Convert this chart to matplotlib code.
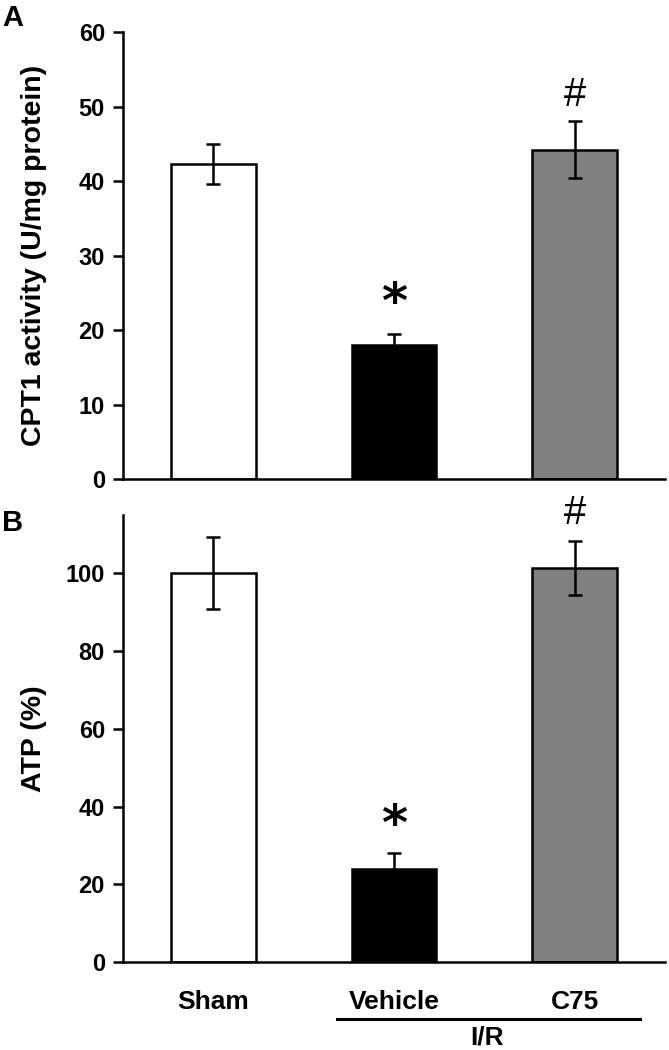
import matplotlib
matplotlib.use("Agg")
import matplotlib.pyplot as plt
import numpy as np

plt.rcParams['font.family'] = ['Liberation Sans', 'DejaVu Sans']

groups = ["Sham", "Vehicle", "C75"]
bar_colors = ["white", "black", "#808080"]

cpt1 = [42.3, 18.0, 44.2]
cpt1_err = [2.7, 1.4, 3.8]
cpt1_marks = ["", "*", "#"]
cpt1_mark_y = [0, 23.5, 51.5]

atp = [100.0, 24.0, 101.4]
atp_err = [9.3, 4.0, 7.0]
atp_marks = ["", "*", "#"]
atp_mark_y = [0, 35.0, 115.5]

W, H = 669, 1050
fig = plt.figure(figsize=(W / 100, H / 100), dpi=100)

left = 123 / W
width = (665 - 123) / W
ax_a = fig.add_axes([left, 1 - 479 / H, width, 447 / H])
ax_b = fig.add_axes([left, 1 - 962 / H, width, 447 / H])

x = np.arange(len(groups))

def draw(ax, vals, errs, marks, mark_y, ylim, yticks, ylabel):
    ax.bar(x, vals, width=0.47, color=bar_colors, edgecolor="black",
           linewidth=1.8, zorder=2)
    ax.errorbar(x, vals, yerr=errs, fmt="none", ecolor="black",
                elinewidth=1.8, capsize=5, capthick=1.8, zorder=3)
    for xi, m, my in zip(x, marks, mark_y):
        if m == "*":
            ax.text(xi, my, m, ha="center", va="center", fontsize=36,
                    family="DejaVu Sans", fontweight="bold", clip_on=False)
        elif m == "#":
            ax.text(xi, my, m, ha="center", va="center", fontsize=29,
                    clip_on=False)
    ax.set_xlim(-0.5, 2.5)
    ax.set_ylim(*ylim)
    ax.set_yticks(yticks)
    for s in ["top", "right"]:
        ax.spines[s].set_visible(False)
    for s in ["left", "bottom"]:
        ax.spines[s].set_linewidth(1.8)
    ax.tick_params(axis="y", direction="out", length=7, width=1.8, pad=6,
                   labelsize=17)
    for lab in ax.get_yticklabels():
        lab.set_fontweight("bold")
    ax.set_ylabel(ylabel, fontsize=20.5, fontweight="bold")
    ax.yaxis.set_label_coords(-0.14, 0.5)

draw(ax_a, cpt1, cpt1_err, cpt1_marks, cpt1_mark_y, (0, 60),
     [0, 10, 20, 30, 40, 50, 60], "CPT1 activity (U/mg protein)")
draw(ax_b, atp, atp_err, atp_marks, atp_mark_y, (0, 115),
     [0, 20, 40, 60, 80, 100], "ATP (%)")

ax_a.set_xticks([])
ax_b.set_xticks(x)
ax_b.set_xticklabels(groups, fontsize=19, fontweight="bold")
ax_b.tick_params(axis="x", length=0, pad=20)

# I/R bracket under Vehicle and C75
ax_b.plot([0.395, 0.954], [-0.1275, -0.1275], color="black", lw=2.2,
          transform=ax_b.transAxes, clip_on=False)
ax_b.text(0.672, -0.168, "I/R", transform=ax_b.transAxes, ha="center",
          va="center", fontsize=19, fontweight="bold")

fig.text(13 / W, 1 - 18 / H, "A", fontsize=21, fontweight="bold",
         ha="center", va="center")
fig.text(13 / W, 1 - 523 / H, "B", fontsize=21, fontweight="bold",
         ha="center", va="center")

fig.savefig("out.png", dpi=100)
